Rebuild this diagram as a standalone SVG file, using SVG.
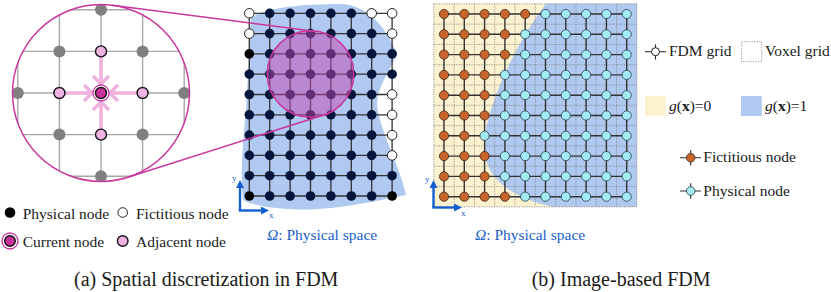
<svg xmlns="http://www.w3.org/2000/svg" width="831" height="292" viewBox="0 0 831 292" font-family="'Liberation Serif', 'Times New Roman', 'DejaVu Serif', serif">
<style>
text{font-family:'Liberation Serif','Times New Roman','DejaVu Serif',serif;fill:#1a1a1a}
.lg{font-size:15.5px}
.cap{font-size:20px}
.om{font-size:15.5px;fill:#2060c8}
.ax{font-size:9px;fill:#2060c8}
.mag{stroke:#c8379f;stroke-width:1.5}
.gl{stroke:#a8a8a8;stroke-width:1.4;fill:none}
.gn{fill:#808080}
.pk{fill:#f0b2e0;stroke:#111;stroke-width:1.4}
.cur{fill:#c8309c;stroke:#111;stroke-width:1.4}
.arr{stroke:#efb1de;stroke-width:3.6;fill:none}
.fgl{stroke:#333;stroke-width:1.3;fill:none}
.b{fill:#03153a}
.k{fill:#000}
.w{fill:#fff;stroke:#222;stroke-width:1}
.vx{stroke:#8a8a8a;stroke-width:0.9;stroke-dasharray:1.2 1.3;fill:none}
.rgl{stroke:#333;stroke-width:1.4;fill:none}
.f{fill:#c8642c;stroke:#3a2a1a;stroke-width:0.8}
.p{fill:#a2ecf4;stroke:#2a3a4a;stroke-width:0.8}
.axl{stroke:#1560d0;stroke-width:2.4;fill:none}
</style>
<defs>
<clipPath id="bigclip"><circle cx="101" cy="93" r="88.5"/></clipPath>
<marker id="ah" markerWidth="8" markerHeight="8" refX="5" refY="4" orient="auto" markerUnits="userSpaceOnUse">
<path d="M0,0 L8,4 L0,8 Z" fill="#1560d0"/>
</marker>
</defs>

<g id="domain-a">
<path d="M251,18 C265,8 300,4 340,4 C366,4 386,26 397,54 C389,72 377,88 377,104 C379,130 398,160 406,195 C375,201 330,212 290,209 C265,208 250,204 243,200 C240,175 243,140 246,110 C248,80 249,45 251,18 Z" fill="#b0c9f0"/>
</g>

<g id="fdm-grid-a">
<path class="fgl" d="M249.3,13.3H392.1M249.3,33.6H392.1M249.3,53.9H392.1M249.3,74.2H392.1M249.3,94.5H392.1M249.3,114.8H392.1M249.3,135.1H392.1M249.3,155.4H392.1M249.3,175.7H392.1M249.3,196H392.1M249.3,13.3V196M269.7,13.3V196M290.1,13.3V196M310.5,13.3V196M330.9,13.3V196M351.3,13.3V196M371.7,13.3V196M392.1,13.3V196"/>
</g>

<g id="nodes-a">
<g transform="translate(0,13.3)"><circle class="w" cx="249.3" cy="0" r="4.8"/><circle class="b" cx="269.7" cy="0" r="4.8"/><circle class="b" cx="290.1" cy="0" r="4.8"/><circle class="b" cx="310.5" cy="0" r="4.8"/><circle class="b" cx="330.9" cy="0" r="4.8"/><circle class="b" cx="351.3" cy="0" r="4.8"/><circle class="w" cx="371.7" cy="0" r="4.8"/><circle class="w" cx="392.1" cy="0" r="4.8"/></g>
<g transform="translate(0,33.6)"><circle class="w" cx="249.3" cy="0" r="4.8"/><circle class="b" cx="269.7" cy="0" r="4.8"/><circle class="b" cx="290.1" cy="0" r="4.8"/><circle class="b" cx="310.5" cy="0" r="4.8"/><circle class="b" cx="330.9" cy="0" r="4.8"/><circle class="b" cx="351.3" cy="0" r="4.8"/><circle class="b" cx="371.7" cy="0" r="4.8"/><circle class="w" cx="392.1" cy="0" r="4.8"/></g>
<g transform="translate(0,53.9)"><circle class="k" cx="249.3" cy="0" r="4.8"/><circle class="b" cx="269.7" cy="0" r="4.8"/><circle class="b" cx="290.1" cy="0" r="4.8"/><circle class="b" cx="310.5" cy="0" r="4.8"/><circle class="b" cx="330.9" cy="0" r="4.8"/><circle class="b" cx="351.3" cy="0" r="4.8"/><circle class="b" cx="371.7" cy="0" r="4.8"/><circle class="b" cx="392.1" cy="0" r="4.8"/></g>
<g transform="translate(0,74.2)"><circle class="b" cx="249.3" cy="0" r="4.8"/><circle class="b" cx="269.7" cy="0" r="4.8"/><circle class="b" cx="290.1" cy="0" r="4.8"/><circle class="b" cx="310.5" cy="0" r="4.8"/><circle class="b" cx="330.9" cy="0" r="4.8"/><circle class="b" cx="351.3" cy="0" r="4.8"/><circle class="b" cx="371.7" cy="0" r="4.8"/><circle class="b" cx="392.1" cy="0" r="4.8"/></g>
<g transform="translate(0,94.5)"><circle class="b" cx="249.3" cy="0" r="4.8"/><circle class="b" cx="269.7" cy="0" r="4.8"/><circle class="b" cx="290.1" cy="0" r="4.8"/><circle class="b" cx="310.5" cy="0" r="4.8"/><circle class="b" cx="330.9" cy="0" r="4.8"/><circle class="b" cx="351.3" cy="0" r="4.8"/><circle class="b" cx="371.7" cy="0" r="4.8"/><circle class="w" cx="392.1" cy="0" r="4.8"/></g>
<g transform="translate(0,114.8)"><circle class="b" cx="249.3" cy="0" r="4.8"/><circle class="b" cx="269.7" cy="0" r="4.8"/><circle class="b" cx="290.1" cy="0" r="4.8"/><circle class="b" cx="310.5" cy="0" r="4.8"/><circle class="b" cx="330.9" cy="0" r="4.8"/><circle class="b" cx="351.3" cy="0" r="4.8"/><circle class="b" cx="371.7" cy="0" r="4.8"/><circle class="w" cx="392.1" cy="0" r="4.8"/></g>
<g transform="translate(0,135.1)"><circle class="b" cx="249.3" cy="0" r="4.8"/><circle class="b" cx="269.7" cy="0" r="4.8"/><circle class="b" cx="290.1" cy="0" r="4.8"/><circle class="b" cx="310.5" cy="0" r="4.8"/><circle class="b" cx="330.9" cy="0" r="4.8"/><circle class="b" cx="351.3" cy="0" r="4.8"/><circle class="b" cx="371.7" cy="0" r="4.8"/><circle class="w" cx="392.1" cy="0" r="4.8"/></g>
<g transform="translate(0,155.4)"><circle class="b" cx="249.3" cy="0" r="4.8"/><circle class="b" cx="269.7" cy="0" r="4.8"/><circle class="b" cx="290.1" cy="0" r="4.8"/><circle class="b" cx="310.5" cy="0" r="4.8"/><circle class="b" cx="330.9" cy="0" r="4.8"/><circle class="b" cx="351.3" cy="0" r="4.8"/><circle class="b" cx="371.7" cy="0" r="4.8"/><circle class="w" cx="392.1" cy="0" r="4.8"/></g>
<g transform="translate(0,175.7)"><circle class="b" cx="249.3" cy="0" r="4.8"/><circle class="b" cx="269.7" cy="0" r="4.8"/><circle class="b" cx="290.1" cy="0" r="4.8"/><circle class="b" cx="310.5" cy="0" r="4.8"/><circle class="b" cx="330.9" cy="0" r="4.8"/><circle class="b" cx="351.3" cy="0" r="4.8"/><circle class="b" cx="371.7" cy="0" r="4.8"/><circle class="b" cx="392.1" cy="0" r="4.8"/></g>
<g transform="translate(0,196)"><circle class="k" cx="249.3" cy="0" r="4.8"/><circle class="b" cx="269.7" cy="0" r="4.8"/><circle class="b" cx="290.1" cy="0" r="4.8"/><circle class="b" cx="310.5" cy="0" r="4.8"/><circle class="b" cx="330.9" cy="0" r="4.8"/><circle class="b" cx="351.3" cy="0" r="4.8"/><circle class="b" cx="371.7" cy="0" r="4.8"/><circle class="k" cx="392.1" cy="0" r="4.8"/></g>
</g>

<g id="zoom-region">
<circle cx="310.5" cy="74" r="43.3" fill="#c447b2" fill-opacity="0.5" class="mag"/>
</g>

<g id="magnified-view">
<circle cx="101" cy="93" r="88.5" fill="#fff"/>
<g clip-path="url(#bigclip)">
<path class="gl" d="M17.8,0V190M59.4,0V190M101,0V190M142.6,0V190M184.2,0V190M0,9.8H200M0,51.4H200M0,93H200M0,134.6H200M0,176.2H200"/>
<circle class="gn" cx="101" cy="9.8" r="6"/>
<circle class="gn" cx="59.4" cy="51.4" r="6"/>
<circle class="gn" cx="142.6" cy="51.4" r="6"/>
<circle class="gn" cx="17.8" cy="93" r="6"/>
<circle class="gn" cx="184.2" cy="93" r="6"/>
<circle class="gn" cx="59.4" cy="134.6" r="6"/>
<circle class="gn" cx="142.6" cy="134.6" r="6"/>
<circle class="gn" cx="101" cy="176.2" r="6"/>
</g>
<g id="stencil-arrows">
<path class="arr" d="M101,57V84M93,76L101,84L109,76"/>
<path class="arr" d="M101,129V102M93,110L101,102L109,110"/>
<path class="arr" d="M65,93H92M84,85L92,93L84,101"/>
<path class="arr" d="M137,93H110M118,85L110,93L118,101"/>
</g>
<circle class="pk" cx="101" cy="51.4" r="5.5"/>
<circle class="pk" cx="59.4" cy="93" r="5.5"/>
<circle class="pk" cx="142.6" cy="93" r="5.5"/>
<circle class="pk" cx="101" cy="134.6" r="5.5"/>
<circle cx="101" cy="93" r="8" fill="#fff" stroke="#c8379f" stroke-width="1.3"/>
<circle class="cur" cx="101" cy="93" r="5.5"/>
<circle cx="101" cy="93" r="88.5" fill="none" class="mag"/>
</g>

<g id="connectors">
<line class="mag" x1="112.3" y1="5.2" x2="316" y2="31.4"/>
<line class="mag" x1="127.9" y1="177.3" x2="323.6" y2="115"/>
</g>

<g id="axes-a">
<path class="axl" d="M240,210.5V183" marker-end="url(#ah)"/>
<path class="axl" d="M238.8,210.5H266" marker-end="url(#ah)"/>
<text class="ax" x="232" y="181">y</text>
<text class="ax" x="269" y="218">x</text>
</g>
<text class="om" x="267" y="240"><tspan font-style="italic">Ω</tspan>: Physical space</text>

<g id="legend-a">
<circle cx="10" cy="212.5" r="5.3" fill="#000"/>
<text class="lg" x="22.7" y="218.5">Physical node</text>
<circle class="w" cx="122.7" cy="212.5" r="4.8" stroke-width="1.4"/>
<text class="lg" x="136" y="218.5">Fictitious node</text>
<circle cx="10" cy="241" r="8" fill="#fff" stroke="#c8379f" stroke-width="1.3"/>
<circle class="cur" cx="10" cy="241" r="5.3"/>
<text class="lg" x="22.7" y="247">Current node</text>
<circle class="pk" cx="122.7" cy="241" r="5.3"/>
<text class="lg" x="136" y="247">Adjacent node</text>
</g>

<g id="image-b">
<rect x="433.85" y="3.85" width="203" height="203" fill="#fdf2cf"/>
<path d="M546,3.85 C530,25 512,55 500,85 C488,115 481,140 486,160 C492,182 515,199 553,206.85 L636.85,206.85 L636.85,3.85 Z" fill="#b0c9f0"/>
<path class="vx" d="M433.85,3.85V206.85M454.15,3.85V206.85M474.45,3.85V206.85M494.75,3.85V206.85M515.05,3.85V206.85M535.35,3.85V206.85M555.65,3.85V206.85M575.95,3.85V206.85M596.25,3.85V206.85M616.55,3.85V206.85M636.85,3.85V206.85M433.85,3.85H636.85M433.85,24.15H636.85M433.85,44.45H636.85M433.85,64.75H636.85M433.85,85.05H636.85M433.85,105.35H636.85M433.85,125.65H636.85M433.85,145.95H636.85M433.85,166.25H636.85M433.85,186.55H636.85M433.85,206.85H636.85"/>
</g>
<g id="fdm-grid-b">
<path class="rgl" d="M444,14H626.7M444,34.3H626.7M444,54.6H626.7M444,74.9H626.7M444,95.2H626.7M444,115.5H626.7M444,135.8H626.7M444,156.1H626.7M444,176.4H626.7M444,196.7H626.7M444,14V196.7M464.3,14V196.7M484.6,14V196.7M504.9,14V196.7M525.2,14V196.7M545.5,14V196.7M565.8,14V196.7M586.1,14V196.7M606.4,14V196.7M626.7,14V196.7"/>
</g>
<g id="nodes-b">
<g transform="translate(0,14)"><circle class="f" cx="444" cy="0" r="4.6"/><circle class="f" cx="464.3" cy="0" r="4.6"/><circle class="f" cx="484.6" cy="0" r="4.6"/><circle class="f" cx="504.9" cy="0" r="4.6"/><circle class="f" cx="525.2" cy="0" r="4.6"/><circle class="p" cx="545.5" cy="0" r="4.6"/><circle class="p" cx="565.8" cy="0" r="4.6"/><circle class="p" cx="586.1" cy="0" r="4.6"/><circle class="p" cx="606.4" cy="0" r="4.6"/><circle class="p" cx="626.7" cy="0" r="4.6"/></g>
<g transform="translate(0,34.3)"><circle class="f" cx="444" cy="0" r="4.6"/><circle class="f" cx="464.3" cy="0" r="4.6"/><circle class="f" cx="484.6" cy="0" r="4.6"/><circle class="f" cx="504.9" cy="0" r="4.6"/><circle class="p" cx="525.2" cy="0" r="4.6"/><circle class="p" cx="545.5" cy="0" r="4.6"/><circle class="p" cx="565.8" cy="0" r="4.6"/><circle class="p" cx="586.1" cy="0" r="4.6"/><circle class="p" cx="606.4" cy="0" r="4.6"/><circle class="p" cx="626.7" cy="0" r="4.6"/></g>
<g transform="translate(0,54.6)"><circle class="f" cx="444" cy="0" r="4.6"/><circle class="f" cx="464.3" cy="0" r="4.6"/><circle class="f" cx="484.6" cy="0" r="4.6"/><circle class="f" cx="504.9" cy="0" r="4.6"/><circle class="p" cx="525.2" cy="0" r="4.6"/><circle class="p" cx="545.5" cy="0" r="4.6"/><circle class="p" cx="565.8" cy="0" r="4.6"/><circle class="p" cx="586.1" cy="0" r="4.6"/><circle class="p" cx="606.4" cy="0" r="4.6"/><circle class="p" cx="626.7" cy="0" r="4.6"/></g>
<g transform="translate(0,74.9)"><circle class="f" cx="444" cy="0" r="4.6"/><circle class="f" cx="464.3" cy="0" r="4.6"/><circle class="f" cx="484.6" cy="0" r="4.6"/><circle class="p" cx="504.9" cy="0" r="4.6"/><circle class="p" cx="525.2" cy="0" r="4.6"/><circle class="p" cx="545.5" cy="0" r="4.6"/><circle class="p" cx="565.8" cy="0" r="4.6"/><circle class="p" cx="586.1" cy="0" r="4.6"/><circle class="p" cx="606.4" cy="0" r="4.6"/><circle class="p" cx="626.7" cy="0" r="4.6"/></g>
<g transform="translate(0,95.2)"><circle class="f" cx="444" cy="0" r="4.6"/><circle class="f" cx="464.3" cy="0" r="4.6"/><circle class="f" cx="484.6" cy="0" r="4.6"/><circle class="p" cx="504.9" cy="0" r="4.6"/><circle class="p" cx="525.2" cy="0" r="4.6"/><circle class="p" cx="545.5" cy="0" r="4.6"/><circle class="p" cx="565.8" cy="0" r="4.6"/><circle class="p" cx="586.1" cy="0" r="4.6"/><circle class="p" cx="606.4" cy="0" r="4.6"/><circle class="p" cx="626.7" cy="0" r="4.6"/></g>
<g transform="translate(0,115.5)"><circle class="f" cx="444" cy="0" r="4.6"/><circle class="f" cx="464.3" cy="0" r="4.6"/><circle class="f" cx="484.6" cy="0" r="4.6"/><circle class="p" cx="504.9" cy="0" r="4.6"/><circle class="p" cx="525.2" cy="0" r="4.6"/><circle class="p" cx="545.5" cy="0" r="4.6"/><circle class="p" cx="565.8" cy="0" r="4.6"/><circle class="p" cx="586.1" cy="0" r="4.6"/><circle class="p" cx="606.4" cy="0" r="4.6"/><circle class="p" cx="626.7" cy="0" r="4.6"/></g>
<g transform="translate(0,135.8)"><circle class="f" cx="444" cy="0" r="4.6"/><circle class="f" cx="464.3" cy="0" r="4.6"/><circle class="p" cx="484.6" cy="0" r="4.6"/><circle class="p" cx="504.9" cy="0" r="4.6"/><circle class="p" cx="525.2" cy="0" r="4.6"/><circle class="p" cx="545.5" cy="0" r="4.6"/><circle class="p" cx="565.8" cy="0" r="4.6"/><circle class="p" cx="586.1" cy="0" r="4.6"/><circle class="p" cx="606.4" cy="0" r="4.6"/><circle class="p" cx="626.7" cy="0" r="4.6"/></g>
<g transform="translate(0,156.1)"><circle class="f" cx="444" cy="0" r="4.6"/><circle class="f" cx="464.3" cy="0" r="4.6"/><circle class="f" cx="484.6" cy="0" r="4.6"/><circle class="p" cx="504.9" cy="0" r="4.6"/><circle class="p" cx="525.2" cy="0" r="4.6"/><circle class="p" cx="545.5" cy="0" r="4.6"/><circle class="p" cx="565.8" cy="0" r="4.6"/><circle class="p" cx="586.1" cy="0" r="4.6"/><circle class="p" cx="606.4" cy="0" r="4.6"/><circle class="p" cx="626.7" cy="0" r="4.6"/></g>
<g transform="translate(0,176.4)"><circle class="f" cx="444" cy="0" r="4.6"/><circle class="f" cx="464.3" cy="0" r="4.6"/><circle class="f" cx="484.6" cy="0" r="4.6"/><circle class="p" cx="504.9" cy="0" r="4.6"/><circle class="p" cx="525.2" cy="0" r="4.6"/><circle class="p" cx="545.5" cy="0" r="4.6"/><circle class="p" cx="565.8" cy="0" r="4.6"/><circle class="p" cx="586.1" cy="0" r="4.6"/><circle class="p" cx="606.4" cy="0" r="4.6"/><circle class="p" cx="626.7" cy="0" r="4.6"/></g>
<g transform="translate(0,196.7)"><circle class="f" cx="444" cy="0" r="4.6"/><circle class="f" cx="464.3" cy="0" r="4.6"/><circle class="f" cx="484.6" cy="0" r="4.6"/><circle class="f" cx="504.9" cy="0" r="4.6"/><circle class="p" cx="525.2" cy="0" r="4.6"/><circle class="p" cx="545.5" cy="0" r="4.6"/><circle class="p" cx="565.8" cy="0" r="4.6"/><circle class="p" cx="586.1" cy="0" r="4.6"/><circle class="p" cx="606.4" cy="0" r="4.6"/><circle class="p" cx="626.7" cy="0" r="4.6"/></g>
</g>

<g id="axes-b">
<path class="axl" d="M433.5,207.5V183" marker-end="url(#ah)"/>
<path class="axl" d="M432.3,207.5H459" marker-end="url(#ah)"/>
<text class="ax" x="425" y="182">y</text>
<text class="ax" x="461" y="216">x</text>
</g>
<text class="om" x="475" y="240"><tspan font-style="italic">Ω</tspan>: Physical space</text>

<g id="legend-b">
<path d="M645,51.7H666M655.5,44.5V59.5" stroke="#222" stroke-width="1.1"/>
<circle cx="655.5" cy="51.7" r="4" fill="#fff" stroke="#222" stroke-width="1"/>
<text class="lg" x="669" y="56">FDM grid</text>
<rect x="741.7" y="41.7" width="20" height="20" class="vx"/>
<text class="lg" x="765" y="56">Voxel grid</text>
<rect x="645" y="96" width="20.7" height="20" fill="#fdf2cf"/>
<text class="lg" x="669" y="111"><tspan font-style="italic">g</tspan>(<tspan font-weight="bold">x</tspan>)=0</text>
<rect x="741" y="96" width="20.7" height="20" fill="#b0c9f0"/>
<text class="lg" x="765" y="111"><tspan font-style="italic">g</tspan>(<tspan font-weight="bold">x</tspan>)=1</text>
<path d="M680,157.7H701M690.7,150V165.5" stroke="#333" stroke-width="1.1"/>
<circle class="f" cx="690.7" cy="157.7" r="4.3"/>
<text class="lg" x="703.3" y="162">Fictitious node</text>
<path d="M680,191H701M690.7,183.3V198.8" stroke="#333" stroke-width="1.1"/>
<circle class="p" cx="690.7" cy="191" r="4.3"/>
<text class="lg" x="703.3" y="195.5">Physical node</text>
</g>

<text class="cap" x="74" y="286">(a) Spatial discretization in FDM</text>
<text class="cap" x="531.7" y="286">(b) Image-based FDM</text>
</svg>
